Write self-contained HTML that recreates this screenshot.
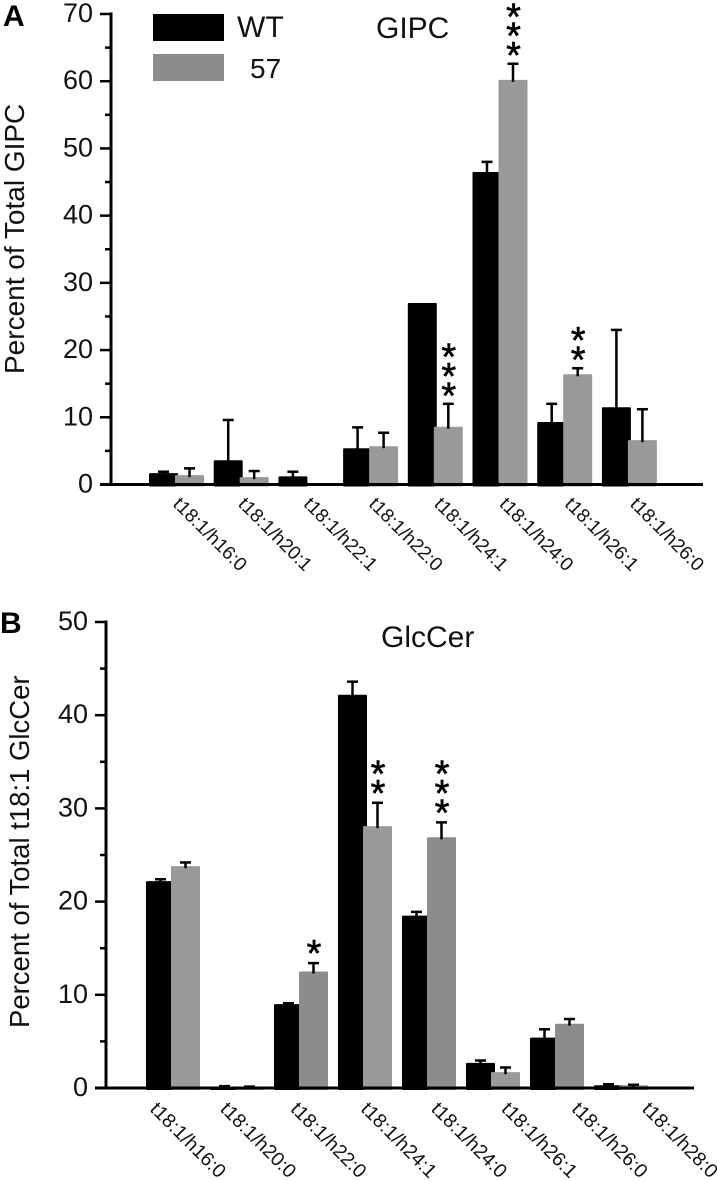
<!DOCTYPE html>
<html>
<head>
<meta charset="utf-8">
<style>
html,body{margin:0;padding:0;background:#fff;width:717px;height:1181px;overflow:hidden}
svg{display:block}
text{font-family:"Liberation Sans",sans-serif;fill:#111}
.tick{font-size:27px}
.title{font-size:30px}
.legend57{font-size:28px}
.ytitle{font-size:28px}
.ytitle2{font-size:27.5px}
.cat{font-size:19px}
.catb{font-size:19.5px}
.star{font-size:38px;font-weight:400;fill:#000;stroke:#000;stroke-width:.6px}
.panel{font-size:30px;font-weight:700;fill:#000}
</style>
</head>
<body>
<svg id="fig" width="717" height="1181" viewBox="0 0 717 1181" xmlns="http://www.w3.org/2000/svg">
  <text class="panel" x="3" y="26">A</text>
  <text class="panel" x="0" y="633">B</text>
  <text class="title" x="376" y="38">GIPC</text>
  <text class="title" x="381" y="647">GlcCer</text>
  <text class="ytitle" transform="translate(24,374) rotate(-90)">Percent of Total GIPC</text>
  <text class="ytitle2" transform="translate(29,1028) rotate(-90)">Percent of Total t18:1 GlcCer</text>
  <rect x="153" y="14" width="71" height="27" fill="#000"/>
  <text class="title" x="237" y="37">WT</text>
  <rect x="153" y="54" width="71" height="27" fill="#8c8c8c"/>
  <text class="legend57" x="250" y="78">57</text>
</svg>
<script>
const gipcCategories = ["t18:1/h16:0","t18:1/h20:1","t18:1/h22:1","t18:1/h22:0","t18:1/h24:1","t18:1/h24:0","t18:1/h26:1","t18:1/h26:0"];
const gipcWt = [1.7,3.6,1.2,5.4,27,46.5,9.3,11.5];
const gipcWtErr = [1.9,9.6,1.9,8.5,27,48,12,23];
const gipc57 = [1.4,1.1,0,5.7,8.6,60.2,16.4,6.6];
const gipc57Err = [2.4,2,0,7.7,12,62.6,17.3,11.2];
const gipcStars = [0,0,0,0,3,3,2,0];
const gipcTicks = [0,10,20,30,40,50,60,70];

const glcCategories = ["t18:1/h16:0","t18:1/h20:0","t18:1/h22:0","t18:1/h24:1","t18:1/h24:0","t18:1/h26:1","t18:1/h26:0","t18:1/h28:0"];
const glcWt = [22.2,0.15,9,42.2,18.5,2.7,5.4,0.3];
const glcWtErr = [22.4,0.2,9.1,43.6,18.9,2.95,6.3,0.4];
const glc57 = [23.8,0.1,12.5,28.1,26.9,1.7,6.9,0.3];
const glc57Err = [24.2,0.15,13.4,30.6,28.5,2.2,7.4,0.35];
const glcStars = [0,0,1,2,3,0,0,0];
const glcTicks = [0,10,20,30,40,50];

const NS = "http://www.w3.org/2000/svg";
const svg = document.getElementById("fig");
function mk(tag, attrs){
  const e = document.createElementNS(NS, tag);
  for (const k in attrs) e.setAttribute(k, attrs[k]);
  svg.appendChild(e);
  return e;
}
function line(x1,y1,x2,y2,w){
  return mk("line",{x1:x1,y1:y1,x2:x2,y2:y2,stroke:"#000","stroke-width":w});
}
function drawChart(c){
  const yScale = v => c.y0 - (v - 0) * (c.y0 - c.yTop) / c.yMax;
  const xWt = i => c.x0 + i * c.pitch;
  const x57 = i => xWt(i) + c.offset;
  const barW = 29;

  c.wt.forEach((v,i)=>{
    if (c.wtErr[i] > v) {
      const cx = xWt(i) + barW/2;
      const s = line(cx,yScale(v)+2,cx,yScale(c.wtErr[i]),2.5);
      
      
      const t = line(cx-5.5,yScale(c.wtErr[i]),cx+5.5,yScale(c.wtErr[i]),2.5);
      
      
    }
    const b = mk("rect",{x:xWt(i),y:yScale(v),width:barW,height:Math.max(c.y0-yScale(v),0)+2,fill:"#000",rx:1});
    
    
  });
  c.mut.forEach((v,i)=>{
    if (v <= 0) return;
    const dark = c.altShade && i > 0 && i % 2 === 0;
    const b = mk("rect",{x:x57(i),y:yScale(v),width:barW,height:c.y0-yScale(v)+2,fill:dark?"#8c8c8c":"#999",rx:1});
    
    
    const cx = x57(i) + barW/2;
    const top = yScale(c.mutErr[i]);
    const s = line(cx,yScale(v)+2,cx,top,2.5);
    
    
    const t = line(cx-5.5,top,cx+5.5,top,2.5);
    
    
    for (let k = 0; k < c.stars[i]; k++) {
      const st = mk("text",{x:cx+0.5,y:top-15-k*19.5+c.starDy,"text-anchor":"middle","class":"star"});
      st.textContent = "*";
      
      
    }
  });

  const ya = line(c.axisX,c.yTop-1.5,c.axisX,c.y0+1.5,3);
  
  
  const xa = line(c.axisX-11,c.y0,c.xEnd,c.y0,3);
  
  

  c.ticks.forEach((v,i)=>{
    const tk = line(c.axisX-11,yScale(v),c.axisX,yScale(v),2.5);
    
    
    if (i > 0) {
      const m = (v + c.ticks[i-1]) / 2;
      const mt = line(c.axisX-6,yScale(m),c.axisX,yScale(m),2.5);
      
      
    }
    const lb = mk("text",{x:c.axisX-18,y:yScale(v)+8,"text-anchor":"end","class":"tick"});
    lb.textContent = String(v);
    
    
  });

  c.cats.forEach((name,i)=>{
    const lx = c.labelX + i * c.labelPitch;
    const lb = mk("text",{"class":c.catClass,transform:"translate("+lx+","+c.labelY+") rotate(45)"});
    lb.textContent = name;
    
    
  });
}
drawChart({cats:gipcCategories,wt:gipcWt,wtErr:gipcWtErr,mut:gipc57,mutErr:gipc57Err,stars:gipcStars,ticks:gipcTicks,
  y0:484.5,yTop:14,yMax:70,x0:149,pitch:64.7,offset:26,axisX:111,xEnd:703,labelX:172,labelY:505,labelPitch:65.3,altShade:false,starDy:19.5,catClass:"cat"});
drawChart({cats:glcCategories,wt:glcWt,wtErr:glcWtErr,mut:glc57,mutErr:glc57Err,stars:glcStars,ticks:glcTicks,
  y0:1088,yTop:622,yMax:50,x0:146,pitch:64,offset:25,axisX:106,xEnd:694,labelX:149,labelY:1110,labelPitch:70.3,altShade:true,starDy:18,catClass:"catb"});
</script>
</body>
</html>
